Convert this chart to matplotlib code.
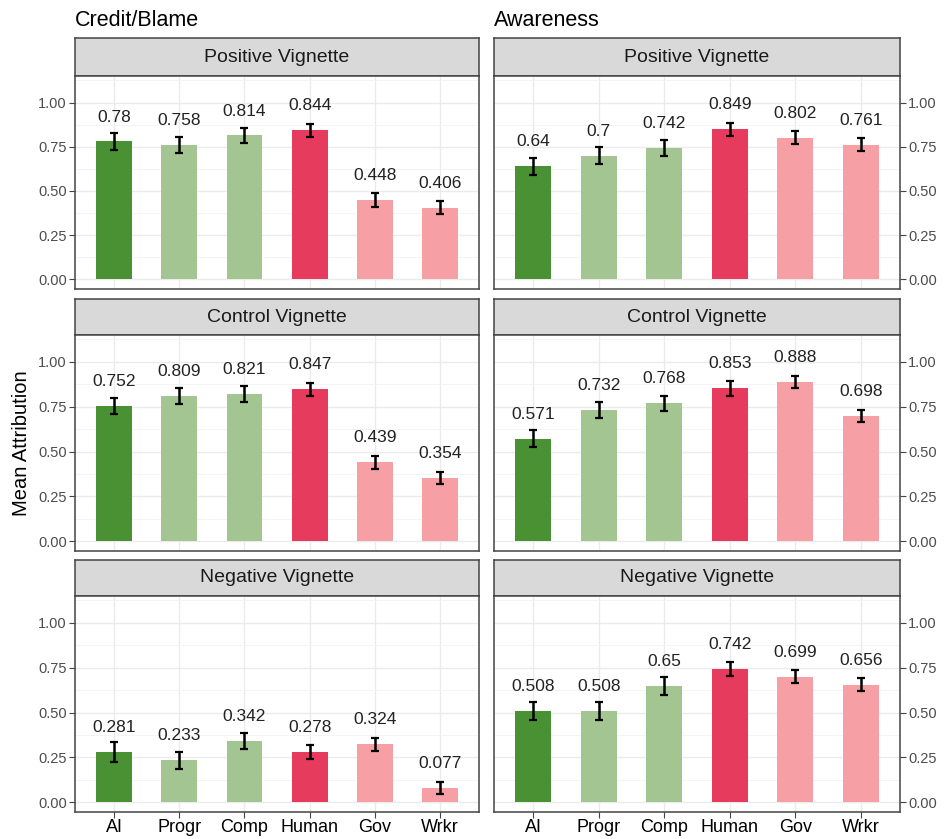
import matplotlib
matplotlib.use("Agg")
import matplotlib.pyplot as plt
import numpy as np

plt.rcParams['font.family'] = ['Liberation Sans', 'DejaVu Sans']

W, H = 945, 839

agents = ["AI", "Progr", "Comp", "Human", "Gov", "Wrkr"]
bar_colors = ["#4a9134", "#a2c591", "#a2c591", "#e63b5c", "#f6a0a5", "#f6a0a5"]
vignettes = ["Positive Vignette", "Control Vignette", "Negative Vignette"]
measures = ["Credit/Blame", "Awareness"]

# mean attribution (rows: positive, control, negative)
credit_mean = [
    [0.780, 0.758, 0.814, 0.844, 0.448, 0.406],
    [0.752, 0.809, 0.821, 0.847, 0.439, 0.354],
    [0.281, 0.233, 0.342, 0.278, 0.324, 0.077],
]
credit_err = [
    [0.046, 0.045, 0.043, 0.037, 0.039, 0.038],
    [0.045, 0.043, 0.043, 0.036, 0.036, 0.034],
    [0.055, 0.048, 0.045, 0.040, 0.036, 0.034],
]
aware_mean = [
    [0.640, 0.700, 0.742, 0.849, 0.802, 0.761],
    [0.571, 0.732, 0.768, 0.853, 0.888, 0.698],
    [0.508, 0.508, 0.650, 0.742, 0.699, 0.656],
]
aware_err = [
    [0.048, 0.046, 0.044, 0.036, 0.036, 0.037],
    [0.048, 0.045, 0.043, 0.041, 0.031, 0.035],
    [0.048, 0.050, 0.050, 0.039, 0.037, 0.036],
]
label_text = [
    [["0.78", "0.758", "0.814", "0.844", "0.448", "0.406"],
     ["0.752", "0.809", "0.821", "0.847", "0.439", "0.354"],
     ["0.281", "0.233", "0.342", "0.278", "0.324", "0.077"]],
    [["0.64", "0.7", "0.742", "0.849", "0.802", "0.761"],
     ["0.571", "0.732", "0.768", "0.853", "0.888", "0.698"],
     ["0.508", "0.508", "0.65", "0.742", "0.699", "0.656"]],
]
yticks = [0.0, 0.25, 0.5, 0.75, 1.0]

# pixel layout (top, strip bottom, panel bottom) per row; (left, right) per column
rows_px = [(38, 76, 289), (299, 335, 551), (560, 596, 812)]
cols_px = [(75, 479), (494, 900)]

fig = plt.figure(figsize=(W / 100, H / 100), dpi=100)

def box(l, r, t, b):
    return [l / W, 1 - b / H, (r - l) / W, (b - t) / H]

x = np.arange(1, len(agents) + 1)
for c, (means, errs) in enumerate([(credit_mean, credit_err), (aware_mean, aware_err)]):
    l, r = cols_px[c]
    for i, (t, sb, b) in enumerate(rows_px):
        # strip
        sax = fig.add_axes(box(l, r, t, sb))
        sax.set_facecolor("#d9d9d9")
        sax.set_xticks([]); sax.set_yticks([])
        for s in sax.spines.values():
            s.set_color("#444444"); s.set_linewidth(1.1)
        sax.text(0.5, 0.5, vignettes[i], ha="center", va="center",
                 fontsize=14, color="#1a1a1a", transform=sax.transAxes)

        ax = fig.add_axes(box(l, r, sb, b))
        ax.set_xlim(0.4, 6.6)
        ax.set_ylim(-0.055, 1.15)
        ax.set_yticks(yticks)
        ax.set_yticks([0.125, 0.375, 0.625, 0.875, 1.125], minor=True)
        ax.set_xticks(x)
        ax.grid(True, which="major", color="#ebebeb", lw=1.0, zorder=0)
        ax.grid(True, which="minor", axis="y", color="#f3f3f3", lw=0.6, zorder=0)
        ax.set_axisbelow(True)
        ax.bar(x, means[i], width=0.55, color=bar_colors, zorder=2)
        ax.errorbar(x, means[i], yerr=errs[i], fmt="none", ecolor="black",
                    elinewidth=1.8, capsize=2.8, capthick=1.6, zorder=3)
        for xi, m, lab in zip(x, means[i], label_text[c][i]):
            ax.text(xi, m + 0.095, lab, ha="center", va="bottom",
                    fontsize=12.5, color="#222222")
        for s in ax.spines.values():
            s.set_color("#444444"); s.set_linewidth(1.1)
        ax.tick_params(axis="y", which="minor", length=0)
        ax.tick_params(axis="y", which="major", length=4, color="#444444",
                       labelsize=10.5, labelcolor="#4d4d4d", pad=2)
        ax.set_yticklabels(["0.00", "0.25", "0.50", "0.75", "1.00"])
        if c == 1:
            ax.yaxis.tick_right()
        if i == 2:
            ax.tick_params(axis="x", length=4, color="#444444",
                           labelsize=13, labelcolor="black", pad=1)
            ax.set_xticklabels(agents)
        else:
            ax.tick_params(axis="x", length=0, labelbottom=False)
        if c == 0 and i == 1:
            ax.set_ylabel("Mean Attribution", fontsize=14.5, color="black", labelpad=5)

    fig.text(l / W, 1 - 20 / H, measures[c], ha="left", va="center",
             fontsize=15.5, color="black")

fig.savefig("out.png", dpi=100, facecolor="white")
